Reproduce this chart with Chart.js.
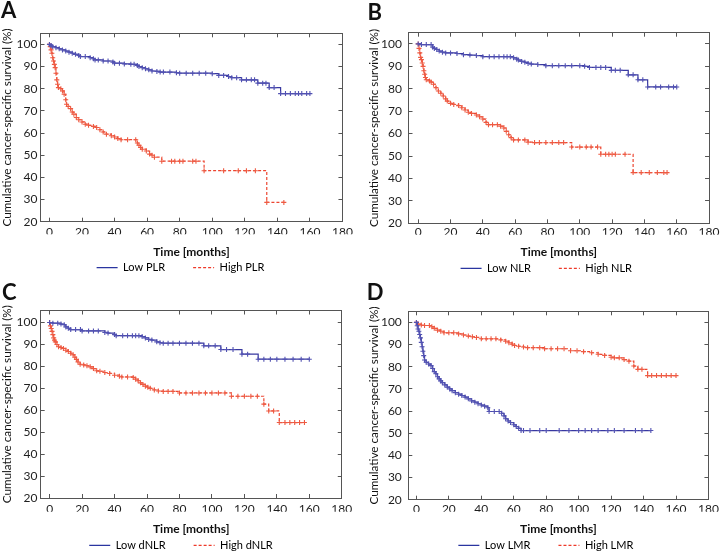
<!DOCTYPE html>
<html><head><meta charset="utf-8">
<script src="https://cdn.jsdelivr.net/npm/chart.js@4/dist/chart.umd.min.js"></script>
<style>
html,body{margin:0;padding:0;background:#fff;width:720px;height:554px;overflow:hidden}
.p{position:absolute;width:360px;height:277px}
canvas{display:block}
</style></head><body>
<div class="p" style="left:0;top:0"><canvas id="cA" width="360" height="277"></canvas></div>
<div class="p" style="left:365px;top:0"><canvas id="cB" width="360" height="277"></canvas></div>
<div class="p" style="left:0;top:277px"><canvas id="cC" width="360" height="277"></canvas></div>
<div class="p" style="left:365px;top:277px"><canvas id="cD" width="360" height="277"></canvas></div>
<script>
// ---- tick labels / texts ----
const xTicks = [0,20,40,60,80,100,120,140,160,180];
const yTicks = [20,30,40,50,60,70,80,90,100];
const panelLetters = ['A','B','C','D'];
const lowLabels = ['Low PLR','Low NLR','Low dNLR','Low LMR'];
const highLabels = ['High PLR','High NLR','High dNLR','High LMR'];
const yTitle = 'Cumulative cancer-specific survival (%)';
const xTitle = 'Time [months]';

// ---- Panel A: PLR ----
const aLowTime = [0,1,2,4,6,8,10,12,14,16,18,19,22,25,27,28,30,33,36,39,40,43,46,50,52,54,55,57,59,61,63,66,68,70,74,78,80,84,88,92,96,100,104,107,110,112,115,118,121,124,126,128,131,133,135,138,142,145,148,151,153,155,158,160];
const aLowSurv = [100,99.5,99,98.5,98,97.5,97,96.5,96,95.5,95,94.5,94.5,94,93.5,93,93,92.5,92.5,92,91.5,91.5,91.2,91,91,90.5,90,89.5,89,88.5,88,87.8,87.5,87.5,87.5,87.2,87,87,87,87,87,86.8,86,86,85.5,85,85,84,84,84,84,82.5,82.5,82.5,80.5,80.5,77.8,77.8,77.8,77.8,77.8,77.8,77.8,77.8];
const aHighTime = [0,0.5,1,1.5,2,2.5,3,3.5,4,4.5,5,5.5,7,8,9,10,10.5,11.5,13,14,15,16.5,18,20,22,24,27,29,31,33,35,38,40,42,44,48,53,54,55,56,57,59.5,61.5,63,64.5,69,75,77,80,82,88,90,95,107,116,121,126.5,133.5,144];
const aHighSurv = [100,99,97.5,96,94,92.5,91,89.5,87,84,82,80.5,80,79,77.5,75,73,72,71,69.5,68.5,67,66,65,64,63.5,63,62.5,61.5,60.5,59.5,58.8,58.2,57.5,57,57,57,55.5,54.5,53.5,52.7,51.9,50.5,50,49.1,47.3,47.3,47.3,47.3,47.3,47.3,47.3,43,43,43,43,43,28.7,28.7];

// ---- Panel B: NLR ----
const bLowTime = [0,2,5,8,9,10,11.5,13,15,17,20,24,28,32,36,40,44,47,50,53,55,57,59,61,62,64,66,68,70,74,79,83,87,91,95,100,103,106,110,113,116,119.5,122,125,130,133,136,139,142,147,150,155,158,160];
const bLowSurv = [100,99.7,99.7,99.7,98.5,98,97.5,96.8,96.3,96,96,95.7,95.2,95,94.8,94.3,94.3,94.3,94.3,94.3,94.3,94.3,93.8,93.2,92.8,92.2,91.8,91.3,91,90.8,90.3,90.3,90.3,90.3,90.3,90.3,90,89.5,89.5,89.5,89.5,88.2,88.2,88.2,86.2,86.2,84,84,80.8,80.8,80.8,80.8,80.8,80.8];
const bHighTime = [0,0.5,1,1.5,2,2.5,3,3.5,4,4.5,5,7,8,9.5,11,12.5,14,15.5,17,18,20,22,25,27,29,31,33,36,38,40,42,43.5,46,49,51,53,54.5,56,57.5,59,62,66,68,72,75,79,83,87,90,95,100,104,107,111,113,116,118,120,122,128,133,138,143,148,152,154];
const bHighSurv = [100,98,96,94,93,91.5,90,88,86.5,85,84,83.5,83,82,80.5,79,78,76.8,75.5,74.5,73.5,73,72.5,71.5,70.5,69.5,69,68.3,67.5,66.5,65,64,64,64,63.3,62.5,61,59.5,58.2,57.2,57.2,57.2,56.2,56,56,56,56,56,56,54,54,54,54,54,50.8,50.8,50.8,50.8,50.8,50.8,42.6,42.6,42.6,42.6,42.6,42.6];

// ---- Panel C: dNLR ----
const cLowTime = [0,2,5,7,9,10,11.5,13,16,19,20,24,27,30,34,36,40,41,45,48,51,53,55,57,59,61,63,66,68,70,73,76,80,84,88,92,95,98,102,105.5,109,113,118.5,122,128.5,132,136,140,145,150,155,160];
const cLowSurv = [100,99.7,99.7,99.3,99,98,97.4,96.8,96.8,96.8,96.2,96.2,96.2,96.2,95.5,95.2,94.5,94,94,94,94,94,94,93.6,93,92.3,92,91.2,90.8,90.6,90.6,90.6,90.6,90.6,90.6,90.6,89.4,89.4,89.4,87.7,87.7,87.7,85.6,85.6,83.3,83.3,83.3,83.3,83.3,83.3,83.3,83.3];
const cHighTime = [0,0.5,1,1.5,2,2.5,3,3.5,4.5,5.5,7,8.5,10,11.5,13,14.5,15.5,16.5,17.5,18.8,21,23,25,27,29,31,34,37,40,43,44.5,48,51.5,53,54.5,56,57.5,59,60.5,62,64.5,67,70,73,76,80,84,88,92,96,100,104,108,112,116,120,124,128,132,135,138,141.5,145,148,151,154,157];
const cHighSurv = [100,98.5,97.3,96,94.5,93,92,91.2,90,89,88.6,88.2,87.4,86.8,86,85.3,84.2,83.2,82,81,80.7,80.3,79.8,79,78,77.8,77.2,76.8,76,75.5,75.2,75.2,75,74.2,73.5,72.5,71.8,71,70.5,70,69.3,68.8,68.6,68.6,68.6,67.9,67.9,67.9,67.9,67.9,67.9,67.9,67.9,66.4,66.4,66.4,66.4,66.4,62.8,59.7,59.7,54.4,54.4,54.4,54.4,54.4,54.4];

// ---- Panel D: LMR ----
const dLowTime = [0,0.5,1,1.5,2,2.5,3,3.5,4,4.5,5,6,7.5,9,10,11,12,13,14,15,16,17.5,19,20.5,22,24,26,28,30,32,34,36,38,40,42,44,44.8,48,51,52.5,54,55,56.5,58,60,61.5,63,64.5,66,70,76,80,88,94,100,104,108,112,118,122,128,135,139,144.5];
const dLowSurv = [100,98.5,97,96,94.5,93,91,89,87,85,83,82,81.2,80.5,79.2,77.8,76.8,75.5,74.5,73.6,72.8,71.8,70.8,70,69.2,68.3,67.6,67,66.3,65.5,64.6,64,63.3,62.7,62.2,61.5,59.8,59.8,59.8,59,57.8,56.5,55.5,54.8,53.8,53,52.2,51.2,51.2,51.2,51.2,51.2,51.2,51.2,51.2,51.2,51.2,51.2,51.2,51.2,51.2,51.2,51.2,51.2];
const dHighTime = [0,1,3,5,8,9.5,11,13,15,17,20,23,26,29,32,34.5,37,40,43,46,49,52,55,57,59,60.5,63,66,68.5,72,76,79,83,87,91,95,99,103,108,112,116,120,122,125,128,131,134,136.5,139,142.5,145,148,151,154,157,160];
const dHighSurv = [100,99.2,98.8,98.6,98.6,98,97.3,96.5,96,95.3,95.3,95.3,94.8,94.3,93.8,93.5,93.2,92.6,92.6,92.6,92.6,92.1,91.5,90.8,90.2,89.6,89.2,88.9,88.6,88.6,88.6,88.1,88.1,88.1,88.1,87.2,87.2,86.8,86.3,85.6,85.1,84.3,84,84,83.2,82.5,80.3,78.8,78.8,76,76,76,76,76,76,76];

const series = [
  [aLowTime,aLowSurv,aHighTime,aHighSurv],
  [bLowTime,bLowSurv,bHighTime,bHighSurv],
  [cLowTime,cLowSurv,cHighTime,cHighSurv],
  [dLowTime,dLowSurv,dHighTime,dHighSurv]
];

// ---- layout (canvas-relative pixel geometry) ----
const panels = [
  {canvas:'cA', ca:[40.5,33.3,343.5,221.7], xMin:-5.5, yMax:105,   padL:1,   letterY:11,   yLabelGap:3,   yTitleX:7.5, xLabelY:232, xTitleY:252.3, legendY:267.7},
  {canvas:'cB', ca:[43.5,32.7,344.5,223.3], xMin:-6,   yMax:105,   padL:2.5, letterY:12.8, yLabelGap:6.5, yTitleX:9,   xLabelY:232, xTitleY:252.3, legendY:268.3},
  {canvas:'cC', ca:[40.7,33.5,344,221],     xMin:-5.5, yMax:105.5, padL:2,   letterY:16,   yLabelGap:3.3, yTitleX:7.5, xLabelY:232, xTitleY:252.3, legendY:268.3},
  {canvas:'cD', ca:[43.3,34.3,345.5,222.7], xMin:-5,   yMax:105,   padL:1.7, letterY:15.7, yLabelGap:6.5, yTitleX:9.2, xLabelY:232, xTitleY:252.3, legendY:268.3}
];

const W = 360, H = 277;
const axisColor = '#555555';
const textColor = '#1e1e1e';
const blueLine = '#3838a0', blueMark = '#5252b2';
const redLine = '#ec4530', redMark = '#ee5a42';
const FONT = 'Lato';
const tickLen = 4;
const legendFont = 11, legendPad = 28;

function pts(t, s){ return t.map((v,i)=>({x:v, y:s[i]})); }

panels.forEach((p, i) => {
  const [caL, caT, caR, caB] = p.ca;
  const legendTop = p.legendY - legendPad - legendFont/2;
  const legendH = legendFont + legendPad + 10;
  const padBottom = H - legendTop - legendH;
  const xAxisH = legendTop - caB;
  const tickLH = 12*1.2;
  const titleLH = 12*1.2;
  const yTitleSize = 11.7, yTitleLH = yTitleSize*1.2;
  const letterPadT = p.letterY - 11;
  const letterPadB = caT - 22 - letterPadT;
  const [lt, ls, ht, hs] = series[i];

  const gridOpts = {display:true, drawOnChartArea:false, drawTicks:true, tickLength:-tickLen, color:axisColor, lineWidth:1};
  const borderOpts = {display:true, color:axisColor, width:1};
  const setX = s => { s.ticks = xTicks.map(v=>({value:v})); };
  const setY = s => { s.ticks = yTicks.map(v=>({value:v})); };

  new Chart(document.getElementById(p.canvas), {
    type:'line',
    data:{datasets:[
      {label:lowLabels[i], data:pts(lt,ls), borderColor:blueLine, legendColor:'#2a35a0', borderWidth:1.2, stepped:'before',
       pointStyle:'cross', pointRadius:2.5, pointBorderColor:blueMark, pointBorderWidth:1.1, fill:false},
      {label:highLabels[i], data:pts(ht,hs), borderColor:redLine, legendColor:'#ee3a2a', borderWidth:1.2, borderDash:[3,2], stepped:'before',
       pointStyle:'cross', pointRadius:2.5, pointBorderColor:redMark, pointBorderWidth:1.1, fill:false}
    ]},
    options:{
      responsive:false, animation:false, events:[],
      layout:{padding:{left:p.padL, top:0, right:0, bottom:padBottom}},
      scales:{
        x:{type:'linear', position:'bottom', min:p.xMin, max:180,
           afterBuildTicks:setX, afterFit:s=>{ s.height = xAxisH; },
           grid:gridOpts, border:borderOpts,
           ticks:{padding:p.xLabelY - caB + tickLen - tickLH/2, font:{family:FONT,size:12}, color:textColor, maxRotation:0, autoSkip:false},
           title:{display:true, text:xTitle, font:{family:FONT,size:12,weight:'bold'}, color:'#111',
                  padding:{top:0, bottom:legendTop - titleLH/2 - p.xTitleY}}},
        x2:{type:'linear', position:'top', min:p.xMin, max:180,
           afterBuildTicks:setX, afterFit:s=>{ s.height = 0; },
           grid:gridOpts, border:borderOpts, ticks:{display:false}},
        y:{type:'linear', position:'left', min:20, max:p.yMax,
           afterBuildTicks:setY, afterFit:s=>{ s.width = caL - p.padL; },
           grid:gridOpts, border:borderOpts,
           ticks:{padding:tickLen + p.yLabelGap, font:{family:FONT,size:12}, color:textColor, autoSkip:false},
           title:{display:true, text:yTitle, font:{family:FONT,size:yTitleSize}, color:'#111',
                  padding:{top:p.yTitleX - p.padL - yTitleLH/2, bottom:0}}},
        y2:{type:'linear', position:'right', min:20, max:p.yMax,
           afterBuildTicks:setY, afterFit:s=>{ s.width = W - caR; },
           grid:gridOpts, border:borderOpts, ticks:{display:false}}
      },
      plugins:{
        tooltip:{enabled:false},
        title:{display:true, text:panelLetters[i], align:'start', color:'#111',
               font:{family:FONT,size:22,weight:'bold',lineHeight:1}, padding:{top:letterPadT, bottom:letterPadB}},
        legend:{display:true, position:'bottom', align:'center',
          labels:{usePointStyle:true, pointStyle:'line', pointStyleWidth:21, boxHeight:legendFont, padding:legendPad,
                  font:{family:FONT,size:legendFont}, color:textColor,
                  generateLabels: ch => ch.data.datasets.map((ds,k)=>({text:ds.label, fillStyle:ds.legendColor, strokeStyle:ds.legendColor,
                      lineWidth:1.3, lineDash:ds.borderDash||[], pointStyle:'line', hidden:false, datasetIndex:k}))}}
      }
    }
  });
});
</script>
</body></html>
